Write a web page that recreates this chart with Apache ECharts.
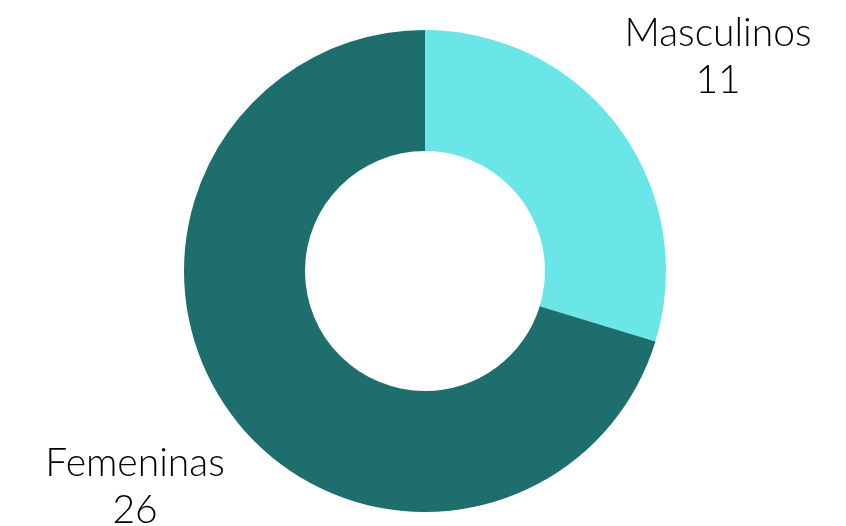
<!DOCTYPE html>
<html>
<head>
<meta charset="utf-8">
<script src="https://cdn.jsdelivr.net/npm/echarts@6/dist/echarts.min.js"></script>
<style>
  html, body { margin: 0; padding: 0; background: #fff; }
  #main { width: 846px; height: 526px; }
</style>
</head>
<body>
<div id="main"></div>
<script>
const names = ['Masculinos', 'Femeninas']
const values = [11, 26]
const colors = ['#6ae6e8', '#1f6e6e']
// label block centres (x, y)
const labelPos = [[718, 57], [135, 487]]

const chart = echarts.init(document.getElementById('main'))

chart.setOption({
  animation: false,
  series: [{
    type: 'pie',
    center: [425, 271],
    radius: [120, 241],
    startAngle: 90,
    clockwise: true,
    data: names.map((n, i) => ({ name: n, value: values[i], itemStyle: { color: colors[i] } })),
    label: {
      show: true,
      position: 'outside',
      formatter: '{b}\n{c}',
      fontFamily: 'Lato',
      fontWeight: 300,
      fontSize: 39,
      lineHeight: 47,
      color: '#000',
      align: 'center',
      overflow: 'none',
      width: 300
    },
    labelLine: { show: false },
    labelLayout: function (p) {
      const pos = labelPos[p.dataIndex]
      return { x: pos[0], y: pos[1], align: 'center', verticalAlign: 'middle' }
    },
    emphasis: { disabled: true }
  }]
})
</script>
</body>
</html>
